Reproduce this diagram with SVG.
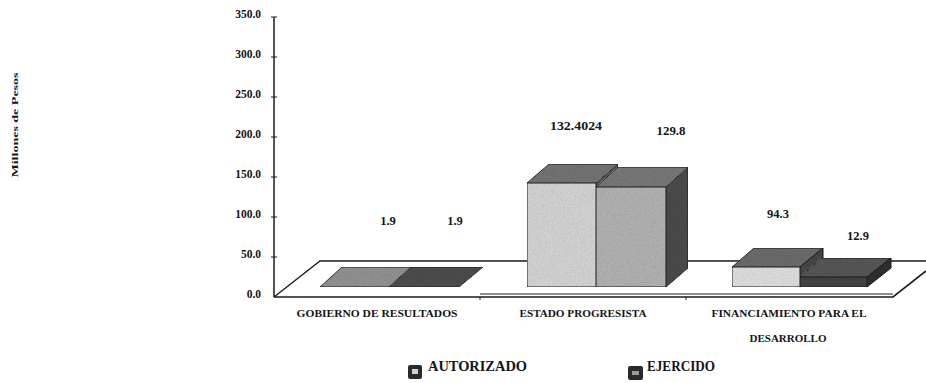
<svg xmlns="http://www.w3.org/2000/svg" width="926" height="383" viewBox="0 0 926 383">
<style>
text{font-family:"Liberation Serif","Times New Roman",serif;font-weight:bold;fill:#151515}
.tick{font-size:11.5px;text-anchor:end}
.val{font-size:12.5px;text-anchor:middle}
.cat{font-size:11px;text-anchor:middle}
.leg{font-size:14.5px}
.ln{stroke:#1a1a1a;fill:none}
.edge{stroke:#1a1a1a;stroke-width:1;stroke-linejoin:round}
</style>
<defs>
<filter id="grain" x="0" y="0" width="100%" height="100%">
<feTurbulence type="fractalNoise" baseFrequency="1.1" numOctaves="2" seed="3" result="n"/>
<feColorMatrix in="n" type="saturate" values="0" result="g"/>
<feComponentTransfer in="g" result="g2"><feFuncR type="linear" slope="1.1" intercept="0.35"/><feFuncG type="linear" slope="1.1" intercept="0.35"/><feFuncB type="linear" slope="1.1" intercept="0.35"/></feComponentTransfer>
<feComposite in="g2" in2="SourceGraphic" operator="in" result="gm"/>
<feBlend in="SourceGraphic" in2="gm" mode="multiply"/>
</filter>
</defs>
<rect width="926" height="383" fill="#ffffff"/>

<g id="axis">
<line class="ln" x1="274" y1="17" x2="274" y2="297" stroke-width="1.5"/>
<path class="ln" d="M271 17h6M271 57h6M271 97h6M271 137h6M271 177h6M271 217h6M271 257h6" stroke-width="1"/>
<text class="tick" x="261" y="18">350.0</text>
<text class="tick" x="261" y="58">300.0</text>
<text class="tick" x="261" y="98">250.0</text>
<text class="tick" x="261" y="138">200.0</text>
<text class="tick" x="261" y="178">150.0</text>
<text class="tick" x="261" y="218">100.0</text>
<text class="tick" x="261" y="258">50.0</text>
<text class="tick" x="261" y="298">0.0</text>
<text x="18" y="125" font-size="9" text-anchor="middle" textLength="105" lengthAdjust="spacingAndGlyphs" transform="rotate(-90 18 125)">Millones de Pesos</text>
</g>

<g id="floor">
<path class="ln" d="M274 297L320 261H926" stroke-width="1.3"/>
<path class="ln" d="M274 297H893L926 271" stroke-width="1.6"/>
<path class="ln" d="M480 294H893" stroke-width="1"/>
<path class="ln" d="M480 297v3M686 297v3" stroke-width="1"/>
</g>

<g id="gobierno">
<path class="edge" d="M320 287L342 267H411L389 287Z" fill="#909090" filter="url(#grain)"/>
<path class="edge" d="M389 287L411 267H483L459 287Z" fill="#4c4c4c" filter="url(#grain)"/>
<text class="val" x="388" y="225">1.9</text>
<text class="val" x="455" y="225">1.9</text>
<text class="cat" x="377" y="317" textLength="161" lengthAdjust="spacingAndGlyphs">GOBIERNO DE RESULTADOS</text>
</g>

<g id="estado">
<path class="edge" d="M527 183L549 164H618L596 183Z" fill="#727272" filter="url(#grain)"/>
<path class="edge" d="M596 183L618 164V268L596 287Z" fill="#555" filter="url(#grain)"/>
<rect class="edge" x="527" y="183" width="69" height="104" fill="#d2d2d2" filter="url(#grain)"/>
<path class="edge" d="M596 187L618 167H688L666 187Z" fill="#767676" filter="url(#grain)"/>
<path class="edge" d="M666 187L688 167V268L666 287Z" fill="#4a4a4a" filter="url(#grain)"/>
<rect class="edge" x="596" y="187" width="70" height="100" fill="#b0b0b0" filter="url(#grain)"/>
<text class="val" x="576" y="130" textLength="52" lengthAdjust="spacingAndGlyphs">132.4024</text>
<text class="val" x="671" y="135" textLength="29" lengthAdjust="spacingAndGlyphs">129.8</text>
<text class="cat" x="583" y="317" textLength="127" lengthAdjust="spacingAndGlyphs">ESTADO PROGRESISTA</text>
</g>

<g id="financiamiento">
<path class="edge" d="M732 267L754 248H823L800 267Z" fill="#6a6a6a" filter="url(#grain)"/>
<path class="edge" d="M800 267L823 248V268L800 287Z" fill="#444"/>
<rect class="edge" x="732" y="267" width="68" height="20" fill="#dcdcdc" filter="url(#grain)"/>
<path class="edge" d="M800 277L822 258H891L867 277Z" fill="#555" filter="url(#grain)"/>
<path class="edge" d="M867 277L891 258V268L867 287Z" fill="#2e2e2e"/>
<rect class="edge" x="800" y="277" width="67" height="10" fill="#424242" filter="url(#grain)"/>
<text class="val" x="778" y="218">94.3</text>
<text class="val" x="858" y="240">12.9</text>
<text class="cat" x="789" y="317" textLength="155" lengthAdjust="spacingAndGlyphs">FINANCIAMIENTO PARA EL</text>
<text class="cat" x="788" y="342" textLength="77" lengthAdjust="spacingAndGlyphs">DESARROLLO</text>
</g>

<g id="legend">
<rect x="408" y="365" width="14" height="14" rx="2" fill="#2a2a2a"/>
<rect x="412" y="369" width="6" height="5" fill="#d0d0d0"/>
<text class="leg" x="428" y="371" textLength="99" lengthAdjust="spacingAndGlyphs">AUTORIZADO</text>
<rect x="628" y="366" width="15" height="14" rx="2" fill="#2a2a2a"/>
<rect x="632" y="371" width="7" height="4" fill="#9a9a9a"/>
<text class="leg" x="647" y="371" textLength="68" lengthAdjust="spacingAndGlyphs">EJERCIDO</text>
</g>
</svg>
